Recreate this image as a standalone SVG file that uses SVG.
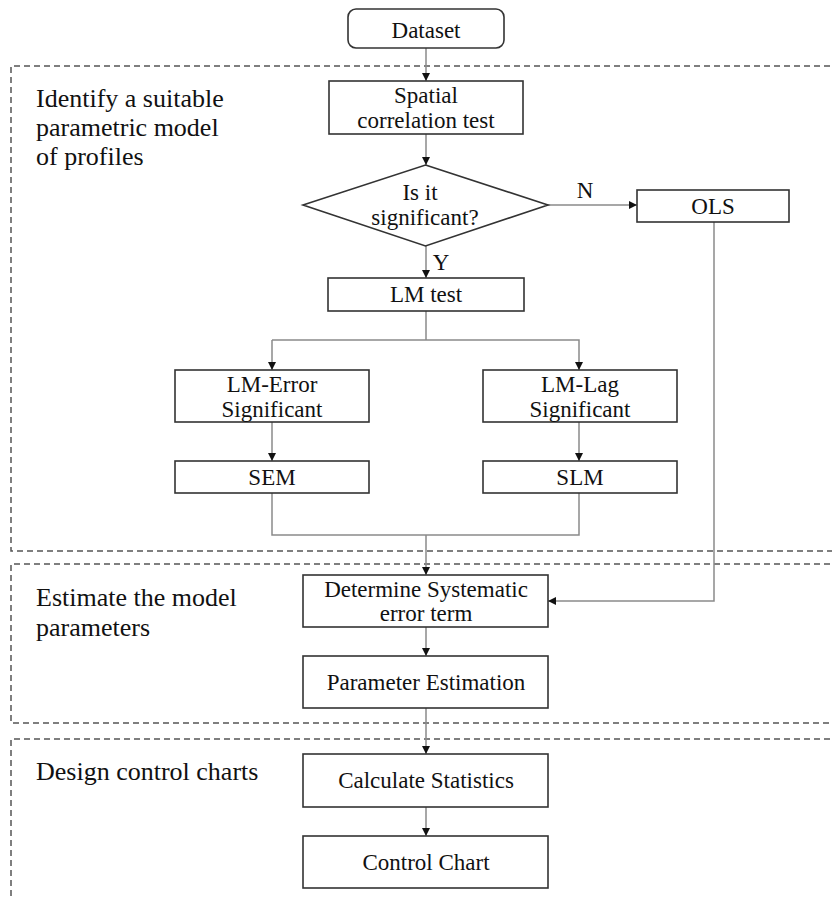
<svg xmlns="http://www.w3.org/2000/svg" width="832" height="898" viewBox="0 0 832 898">
<defs>
<marker id="ah" viewBox="0 0 10 10" refX="10" refY="5" markerWidth="8" markerHeight="8" markerUnits="userSpaceOnUse" orient="auto">
<path d="M0,0 L10,5 L0,10 z" fill="#111"/>
</marker>
<style>
.box{fill:#fff;stroke:#333;stroke-width:1.6}
.dash{fill:none;stroke:#555;stroke-width:1.5;stroke-dasharray:6 4}
.conn{fill:none;stroke:#8a8a8a;stroke-width:1.5}
.arr{marker-end:url(#ah)}
.t{font-family:"Liberation Serif","Times New Roman",serif;font-size:23px;fill:#111;text-anchor:middle}
.lbl{font-family:"Liberation Serif","Times New Roman",serif;font-size:26px;fill:#111}
</style>
</defs>
<rect width="832" height="898" fill="#fff"/>
<g id="stages">
<path class="dash" d="M840,66 H11 V551 H840"/>
<path class="dash" d="M840,564 H11 V723 H840"/>
<path class="dash" d="M840,739 H11 V900"/>
<text class="lbl" x="36" y="107">Identify a suitable</text>
<text class="lbl" x="36" y="136">parametric model</text>
<text class="lbl" x="36" y="165">of profiles</text>
<text class="lbl" x="36" y="606">Estimate the model</text>
<text class="lbl" x="36" y="636">parameters</text>
<text class="lbl" x="36" y="780">Design control charts</text>
</g>
<g id="connectors">
<path class="conn arr" d="M426,48 V81"/>
<path class="conn arr" d="M426,134 V165"/>
<path class="conn arr" d="M548,205 H637"/>
<path class="conn arr" d="M426,246 V278"/>
<path class="conn" d="M426,311 V340"/>
<path class="conn arr" d="M272,340 H579 V370"/>
<path class="conn arr" d="M272,340 V370"/>
<path class="conn arr" d="M272,422 V461"/>
<path class="conn arr" d="M579,422 V461"/>
<path class="conn" d="M272,493 V535 H579 V493"/>
<path class="conn arr" d="M426,535 V575"/>
<path class="conn arr" d="M714,222 V601 H548"/>
<path class="conn arr" d="M426,627 V656"/>
<path class="conn arr" d="M426,708 V754"/>
<path class="conn arr" d="M426,807 V836"/>
<text class="t" x="585" y="198">N</text>
<text class="t" x="441" y="270">Y</text>
</g>
<g id="dataset">
<rect class="box" x="348" y="9" width="156" height="39" rx="8"/>
<text class="t" x="426" y="38" font-size="25">Dataset</text>
</g>
<g id="spatial">
<rect class="box" x="329" y="81" width="194" height="53"/>
<text class="t" x="426" y="103">Spatial</text>
<text class="t" x="426" y="128">correlation test</text>
</g>
<g id="decision">
<polygon class="box" points="425.5,165 548,205 425.5,246 303,205"/>
<text class="t" x="420" y="200">Is it</text>
<text class="t" x="425" y="225">significant?</text>
</g>
<g id="ols">
<rect class="box" x="637" y="190" width="152" height="32"/>
<text class="t" x="713" y="214">OLS</text>
</g>
<g id="lmtest">
<rect class="box" x="328" y="278" width="196" height="33"/>
<text class="t" x="426" y="302">LM test</text>
</g>
<g id="lmerror">
<rect class="box" x="175" y="370" width="194" height="52"/>
<text class="t" x="272" y="392">LM-Error</text>
<text class="t" x="272" y="417">Significant</text>
</g>
<g id="lmlag">
<rect class="box" x="483" y="370" width="194" height="52"/>
<text class="t" x="580" y="392">LM-Lag</text>
<text class="t" x="580" y="417">Significant</text>
</g>
<g id="sem">
<rect class="box" x="175" y="461" width="194" height="32"/>
<text class="t" x="272" y="485">SEM</text>
</g>
<g id="slm">
<rect class="box" x="483" y="461" width="194" height="32"/>
<text class="t" x="580" y="485">SLM</text>
</g>
<g id="determine">
<rect class="box" x="303" y="575" width="245" height="52"/>
<text class="t" x="426" y="597">Determine Systematic</text>
<text class="t" x="426" y="621">error term</text>
</g>
<g id="param">
<rect class="box" x="303" y="656" width="245" height="52"/>
<text class="t" x="426" y="690">Parameter Estimation</text>
</g>
<g id="calc">
<rect class="box" x="303" y="754" width="245" height="53"/>
<text class="t" x="426" y="788">Calculate Statistics</text>
</g>
<g id="chart">
<rect class="box" x="303" y="836" width="245" height="52"/>
<text class="t" x="426" y="870">Control Chart</text>
</g>
</svg>
